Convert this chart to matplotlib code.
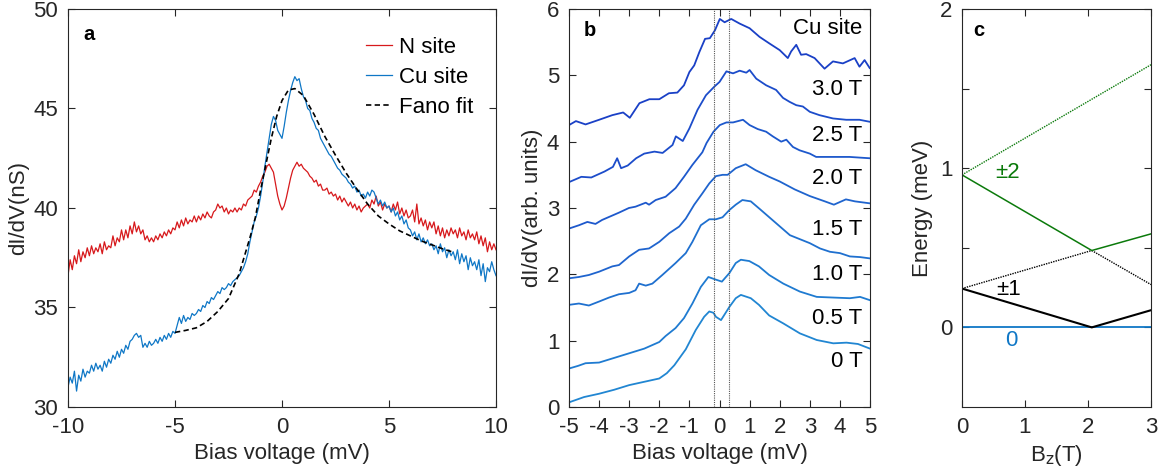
import numpy as np
import matplotlib
matplotlib.use("Agg")
import matplotlib.pyplot as plt
from matplotlib.ticker import FixedLocator, FuncFormatter

plt.rcParams['font.family'] = ['Liberation Sans', 'DejaVu Sans']
plt.rcParams['axes.unicode_minus'] = False

# ---------------- panel a: point spectra ----------------
bias_a = np.round(np.arange(-100, 101) / 10.0, 1)

n_site = [
    36.6, 37.4, 36.9, 37.6, 37.2, 37.9, 37.3, 37.8, 37.5, 38.0,
    37.6, 38.1, 37.7, 38.0, 37.8, 38.2, 37.7, 38.3, 37.9, 38.1,
    38.0, 38.6, 38.1, 38.5, 38.3, 38.9, 38.4, 38.9, 38.5, 39.1,
    38.7, 39.3, 38.8, 39.1, 38.7, 38.9, 38.4, 38.6, 38.3, 38.5,
    38.3, 38.6, 38.4, 38.7, 38.5, 38.8, 38.6, 38.9, 38.7, 39.0,
    38.9, 39.3, 39.0, 39.4, 39.1, 39.5, 39.2, 39.4, 39.3, 39.6,
    39.3, 39.6, 39.4, 39.7, 39.5, 39.8, 39.6, 39.5, 39.8, 39.9,
    40.2, 40.0, 40.1, 39.8, 40.0, 39.7, 39.9, 39.8, 40.0, 39.8,
    40.0, 39.9, 40.2, 40.1, 40.4, 40.5, 40.6, 40.9, 40.8, 41.1,
    41.3, 41.6, 41.8, 42.1, 42.2, 42.0, 41.8, 41.2, 40.6, 40.2,
    39.9, 40.1, 40.5, 41.0, 41.5, 41.9, 42.1, 42.3, 42.1, 42.2,
    42.0, 41.9, 41.8, 41.6, 41.5, 41.3, 41.4, 41.1, 41.2, 40.9,
    40.9, 41.0, 40.7, 40.8, 40.6, 40.7, 40.4, 40.6, 40.3, 40.5,
    40.3, 40.1, 40.3, 40.0, 40.2, 39.9, 40.1, 39.8, 40.0, 40.1,
    40.2, 40.0, 40.4, 40.2, 40.6, 40.1, 40.3, 39.9, 40.2, 40.0,
    40.1, 39.8, 40.2, 39.9, 40.3, 39.7, 40.0, 39.6, 39.9, 39.5,
    39.6, 39.9, 39.3, 40.2, 39.2, 39.5, 39.1, 39.4, 38.9, 39.3,
    39.0, 39.3, 38.7, 39.1, 38.6, 39.0, 38.5, 38.9, 38.6, 39.0,
    38.7, 38.9, 38.5, 39.0, 38.6, 38.8, 38.4, 38.9, 38.5, 38.7,
    38.4, 38.8, 38.2, 38.6, 38.1, 38.5, 37.8, 38.3, 37.9, 38.2,
    37.9,
]

cu_site = [
    31.0, 31.5, 31.2, 31.8, 30.8, 31.6, 31.3, 31.9, 31.5, 31.8,
    31.7, 32.1, 31.8, 32.2, 31.9, 32.1, 31.8, 32.3, 32.0, 32.4,
    32.2, 32.6, 32.4, 32.8, 32.5, 32.9, 32.7, 33.1, 32.9, 33.3,
    33.4, 33.6, 33.7, 33.5, 33.6, 33.0, 33.2, 33.0, 33.3, 33.1,
    33.2, 33.4, 33.2, 33.5, 33.3, 33.6, 33.4, 33.7, 33.5, 33.8,
    33.7, 34.1, 34.5, 34.2, 34.6, 34.3, 34.5, 34.4, 34.7, 34.6,
    34.7, 34.9, 34.8, 35.1, 35.0, 35.3, 35.2, 35.5, 35.4, 35.6,
    35.8, 35.7, 36.0, 35.9, 36.0, 36.2, 36.1, 36.3, 36.4, 36.5,
    36.6, 36.8, 37.0, 37.3, 37.7, 38.3, 38.8, 39.3, 39.6, 40.0,
    40.6, 41.3, 42.1, 42.8, 43.5, 44.2, 44.6, 44.4, 43.9, 43.7,
    43.5, 44.1, 44.8, 45.4, 45.9, 46.3, 46.6, 46.4, 46.5, 46.0,
    45.6, 45.4, 45.0, 44.9, 44.5, 44.3, 44.0, 43.9, 43.5, 43.3,
    43.1, 42.9, 42.7, 42.6, 42.4, 42.2, 42.0, 41.9, 41.7, 41.6,
    41.5, 41.3, 41.2, 41.0, 41.1, 40.8, 40.9, 40.6, 40.7, 40.5,
    40.8, 40.6, 40.9, 40.8, 40.5, 40.2, 40.4, 40.1, 40.3, 40.0,
    40.1, 39.8, 40.0, 39.6, 39.8, 39.4, 39.6, 39.2, 39.4, 39.0,
    38.9, 38.6, 38.8, 38.4, 38.7, 38.3, 38.5, 38.2, 38.4, 38.1,
    38.2, 37.9, 38.1, 37.7, 38.2, 37.8, 38.0, 37.5, 37.9, 37.6,
    37.8, 37.4, 37.9, 37.2, 37.7, 37.3, 37.6, 36.9, 37.5, 37.1,
    37.3, 36.9, 37.4, 36.6, 37.2, 36.3, 37.0, 36.8, 37.3, 36.9,
    36.6,
]

fano_bias = [-5, -4.5, -4, -3.5, -3, -2.5, -2, -1.75, -1.5, -1.25, -1, -0.75,
             -0.5, -0.25, 0, 0.3, 0.6, 1.0, 1.5, 2.0, 2.5, 3.0, 3.5, 4.0, 4.5,
             5.0, 5.5, 6.0, 6.5, 7.0, 7.5, 8.0]
fano_fit = [33.75, 33.85, 33.98, 34.3, 34.8, 35.45, 36.7, 37.6, 38.5, 39.5,
            40.9, 42.2, 43.5, 44.6, 45.4, 45.93, 46.0, 45.65, 44.7, 43.6,
            42.65, 41.75, 40.95, 40.2, 39.6, 39.2, 38.85, 38.6, 38.35, 38.15,
            37.95, 37.78]

# ---------------- panel b: field dependence (offset spectra) ----------------
field_labels = ['0 T', '0.5 T', '1.0 T', '1.5 T', '2.0 T', '2.5 T', '3.0 T']

b00_x = [-5, -4.5, -4, -3.5, -3, -2.5, -2, -1.75, -1.5, -1.12, -0.79, -0.51,
         -0.34, -0.2, -0.12, 0.05, 0.33, 0.54, 0.71, 1.04, 1.31, 1.65, 2.12,
         2.67, 3.23, 3.78, 4.22, 4.6, 5.0]
b00_y = [0.07, 0.15, 0.2, 0.26, 0.33, 0.38, 0.43, 0.51, 0.63, 0.87, 1.16, 1.36,
         1.44, 1.42, 1.36, 1.31, 1.51, 1.64, 1.69, 1.64, 1.54, 1.38, 1.26,
         1.11, 1.01, 0.96, 0.97, 0.95, 0.88]

b05_x = [-5, -4.7, -4.45, -4.0, -3.5, -3, -2.5, -2, -1.79, -1.46, -1.18, -0.9,
         -0.62, -0.37, -0.12, 0.08, 0.33, 0.54, 0.71, 0.99, 1.31, 1.65, 2.12,
         2.67, 3.23, 3.78, 4.33, 4.67, 5.0]
b05_y = [0.58, 0.62, 0.66, 0.67, 0.74, 0.81, 0.88, 0.98, 1.07, 1.19, 1.34, 1.56,
         1.81, 1.96, 1.92, 1.89, 2.02, 2.17, 2.22, 2.20, 2.12, 1.99, 1.86,
         1.74, 1.66, 1.65, 1.64, 1.66, 1.61]

b10_x = [-5, -4.67, -4.34, -4.0, -3.67, -3.34, -3.0, -2.79, -2.67, -2.45,
         -2.23, -1.9, -1.46, -1.12, -0.9, -0.62, -0.34, -0.12, 0.1, 0.33,
         0.54, 0.76, 1.04, 1.35, 1.68, 2.01, 2.34, 2.67, 3.0, 3.34, 3.67,
         4.0, 4.33, 4.67, 5.0]
b10_y = [1.54, 1.56, 1.53, 1.59, 1.65, 1.70, 1.72, 1.76, 1.86, 1.83,
         1.86, 1.99, 2.17, 2.32, 2.49, 2.74, 2.83, 2.83, 2.86, 2.97,
         3.05, 3.12, 3.10, 2.98, 2.85, 2.72, 2.59, 2.53, 2.47, 2.39, 2.34,
         2.32, 2.27, 2.26, 2.24]

b15_x = [-5, -4.67, -4.34, -4.0, -3.56, -3.34, -3.0, -2.67, -2.34, -2.0,
         -1.67, -1.34, -1.12, -0.84, -0.57, -0.34, -0.12, 0.1, 0.27, 0.54,
         0.87, 1.2, 1.65, 2.0, 2.5, 3.0, 3.5, 3.8, 4.2, 4.5, 5.0]
b15_y = [1.94, 1.96, 1.99, 2.04, 2.12, 2.14, 2.27, 2.37, 2.39, 2.49,
         2.62, 2.72, 2.84, 3.05, 3.22, 3.37, 3.48, 3.50, 3.50, 3.60,
         3.66, 3.57, 3.47, 3.40, 3.28, 3.18, 3.10, 3.05, 3.13, 3.10, 3.07]

b20_x = [-5, -4.67, -4.39, -4.12, -3.9, -3.34, -3.01, -2.79, -2.45, -2.34,
         -2.12, -1.79, -1.46, -1.18, -0.9, -0.57, -0.43, -0.2, 0.01, 0.23,
         0.45, 0.78, 1.0, 1.27, 1.55, 1.77, 2.05, 2.22, 2.44, 2.66, 3.0,
         3.21, 3.55, 3.99, 4.32, 4.65, 4.99]
b20_y = [2.69, 2.74, 2.79, 2.76, 2.82, 2.93, 3.0, 3.02, 3.08, 3.05,
         3.12, 3.17, 3.30, 3.47, 3.65, 3.84, 3.98, 4.15, 4.25, 4.29,
         4.29, 4.33, 4.25, 4.19, 4.15, 4.08, 4.0, 4.03, 3.92, 3.87, 3.82,
         3.77, 3.77, 3.77, 3.77, 3.76, 3.75]

b25_x = [-5, -4.59, -4.26, -3.82, -3.54, -3.40, -3.27, -3.05, -2.77, -2.5,
         -2.16, -1.89, -1.56, -1.45, -1.22, -1.0, -0.73, -0.45, -0.17, 0.0,
         0.23, 0.45, 0.67, 0.89, 1.0, 1.22, 1.55, 1.88, 2.11, 2.33, 2.55,
         2.77, 3.0, 3.32, 3.77, 4.21, 4.65, 4.99]
b25_y = [3.39, 3.47, 3.46, 3.55, 3.62, 3.75, 3.60, 3.64, 3.75, 3.82,
         3.85, 3.83, 3.95, 4.08, 4.01, 4.20, 4.48, 4.70, 4.83, 4.90,
         5.06, 5.03, 5.07, 5.04, 5.08, 4.95, 4.85, 4.78, 4.66, 4.60, 4.55,
         4.53, 4.45, 4.40, 4.35, 4.33, 4.33, 4.30]

b30_x = [-5, -4.77, -4.45, -4.0, -3.56, -3.2, -2.98, -2.66, -2.33, -2.0,
         -1.68, -1.4, -1.18, -1.0, -0.84, -0.67, -0.48, -0.32, -0.15, 0.01,
         0.17, 0.39, 0.67, 1.0, 1.33, 1.66, 2.0, 2.27, 2.38, 2.55, 2.71,
         2.88, 3.16, 3.49, 3.77, 4.1, 4.49, 4.65, 4.82, 4.99]
b30_y = [4.25, 4.31, 4.26, 4.33, 4.40, 4.44, 4.36, 4.58, 4.64, 4.64,
         4.73, 4.74, 4.85, 5.05, 5.15, 5.35, 5.55, 5.56, 5.68, 5.85,
         5.80, 5.85, 5.78, 5.71, 5.58, 5.48, 5.38, 5.26, 5.36, 5.46, 5.31,
         5.32, 5.26, 5.10, 5.21, 5.18, 5.26, 5.13, 5.23, 5.11]

label_y = [0.69, 1.34, 2.0, 2.67, 3.45, 4.1, 4.78]
marker_bias = [-0.19, 0.30]

# ---------------- panel c: Zeeman diagram ----------------
bz = [0.0, 2.06, 3.0]
level_0 = [0.0, 0.0, 0.0]
level_1_low = [0.244, 0.0, 0.108]
level_1_high = [0.244, 0.483, 0.269]
level_2_low = [0.958, 0.483, 0.5875]
level_2_high = [0.958, 1.30, 1.65]

# ---------------- styling helpers ----------------
FS = 16
SPINE = '#262626'
RED = '#d7191c'
BLUE = '#0f77c6'
GREEN = '#0b7a0b'


def style(ax):
    for s in ax.spines.values():
        s.set_linewidth(0.8)
        s.set_color(SPINE)
    ax.tick_params(direction='in', length=5, width=0.8, top=True, right=True,
                   labelsize=FS, colors=SPINE, pad=7)


plain = FuncFormatter(lambda v, p: ('%g' % v))

fig = plt.figure(figsize=(11.58, 4.75), dpi=100)
ax_a = fig.add_axes([68 / 1158, 1 - 407 / 475, 428 / 1158, 398 / 475])
ax_b = fig.add_axes([569 / 1158, 1 - 407 / 475, 301 / 1158, 398 / 475])
ax_c = fig.add_axes([962 / 1158, 1 - 407 / 475, 189 / 1158, 398 / 475])

# panel a
ax_a.plot(bias_a, n_site, color=RED, lw=0.9, label='N site')
ax_a.plot(bias_a, cu_site, color=BLUE, lw=0.9, label='Cu site')
ax_a.plot(fano_bias, fano_fit, color='black', lw=1.2, dashes=(3.2, 2.0),
          label='Fano fit')
ax_a.set_xlim(-10, 10)
ax_a.set_ylim(30, 50)
ax_a.xaxis.set_major_locator(FixedLocator([-10, -5, 0, 5, 10]))
ax_a.yaxis.set_major_locator(FixedLocator([30, 35, 40, 45, 50]))
ax_a.xaxis.set_major_formatter(plain)
style(ax_a)
ax_a.set_xlabel('Bias voltage (mV)', fontsize=FS, color=SPINE, labelpad=4)
ax_a.set_ylabel('dI/dV(nS)', fontsize=FS, color=SPINE, labelpad=3)
ax_a.text(0.035, 0.96, 'a', transform=ax_a.transAxes, fontsize=14.5,
          fontweight='bold', va='top', ha='left')
ax_a.legend(loc='upper right', bbox_to_anchor=(0.948, 0.93), frameon=False,
            fontsize=FS, handlelength=1.15, handletextpad=0.35,
            labelspacing=0.4, borderaxespad=0.0, borderpad=0.0)

# panel b
curves_b = [(b00_x, b00_y), (b05_x, b05_y), (b10_x, b10_y), (b15_x, b15_y),
            (b20_x, b20_y), (b25_x, b25_y), (b30_x, b30_y)]
colors_b = ['#2186d2', '#1f7bd1', '#1f70cf', '#1f64ce', '#1d58cc', '#1c4cca',
            '#1a40c6']
for (xv, yv), col in zip(curves_b, colors_b):
    ax_b.plot(xv, yv, color=col, lw=1.3)
for xm in marker_bias:
    ax_b.axvline(xm, color='#555555', lw=0.8, ls=(0, (1, 1)))
for lab, ly in zip(field_labels, label_y):
    ax_b.text(4.75, ly, lab, fontsize=FS, ha='right', va='center')
ax_b.text(4.75, 5.70, 'Cu site', fontsize=FS, ha='right', va='center')
ax_b.text(0.05, 0.97, 'b', transform=ax_b.transAxes, fontsize=14.5,
          fontweight='bold', va='top', ha='left')
ax_b.set_xlim(-5, 5)
ax_b.set_ylim(0, 6)
ax_b.xaxis.set_major_locator(FixedLocator(list(range(-5, 6))))
ax_b.yaxis.set_major_locator(FixedLocator(list(range(0, 7))))
ax_b.xaxis.set_major_formatter(plain)
style(ax_b)
ax_b.set_xlabel('Bias voltage (mV)', fontsize=FS, color=SPINE, labelpad=4)
ax_b.set_ylabel('dI/dV(arb. units)', fontsize=FS, color=SPINE, labelpad=3)

# panel c
ax_c.plot(bz, level_0, color=BLUE, lw=1.3)
ax_c.plot(bz, level_1_low, color='black', lw=1.5)
ax_c.plot([bz[0], bz[1]], level_1_high[:2], color='black', lw=1.0, ls=(0, (1, 0.8)))
ax_c.plot([bz[1], bz[2]], level_1_high[1:], color='black', lw=1.0, ls=(0, (1, 0.8)))
ax_c.plot(bz, level_2_low, color=GREEN, lw=1.1)
ax_c.plot([bz[0], bz[2]], [level_2_high[0], level_2_high[2]], color=GREEN,
          lw=1.0, ls=(0, (1, 0.8)))
ax_c.text(0.72, 0.97, '±2', color=GREEN, fontsize=FS, ha='center', va='center')
ax_c.text(0.74, 0.24, '±1', color='black', fontsize=FS, ha='center', va='center')
ax_c.text(0.78, -0.08, '0', color=BLUE, fontsize=FS, ha='center', va='center')
ax_c.text(0.06, 0.97, 'c', transform=ax_c.transAxes, fontsize=14.5,
          fontweight='bold', va='top', ha='left')
ax_c.set_xlim(0, 3)
ax_c.set_ylim(-0.5, 2)
ax_c.xaxis.set_major_locator(FixedLocator([0, 1, 2, 3]))
ax_c.yaxis.set_major_locator(FixedLocator([0, 0.5, 1, 1.5, 2]))
ax_c.yaxis.set_major_formatter(FuncFormatter(
    lambda v, p: ('%d' % v) if abs(v - round(v)) < 1e-9 else ''))
style(ax_c)
ax_c.set_xlabel('B$_\\mathrm{z}$(T)', fontsize=FS, color=SPINE, labelpad=4)
ax_c.set_ylabel('Energy (meV)', fontsize=FS, color=SPINE, labelpad=5)

fig.savefig('out.png', dpi=100)
